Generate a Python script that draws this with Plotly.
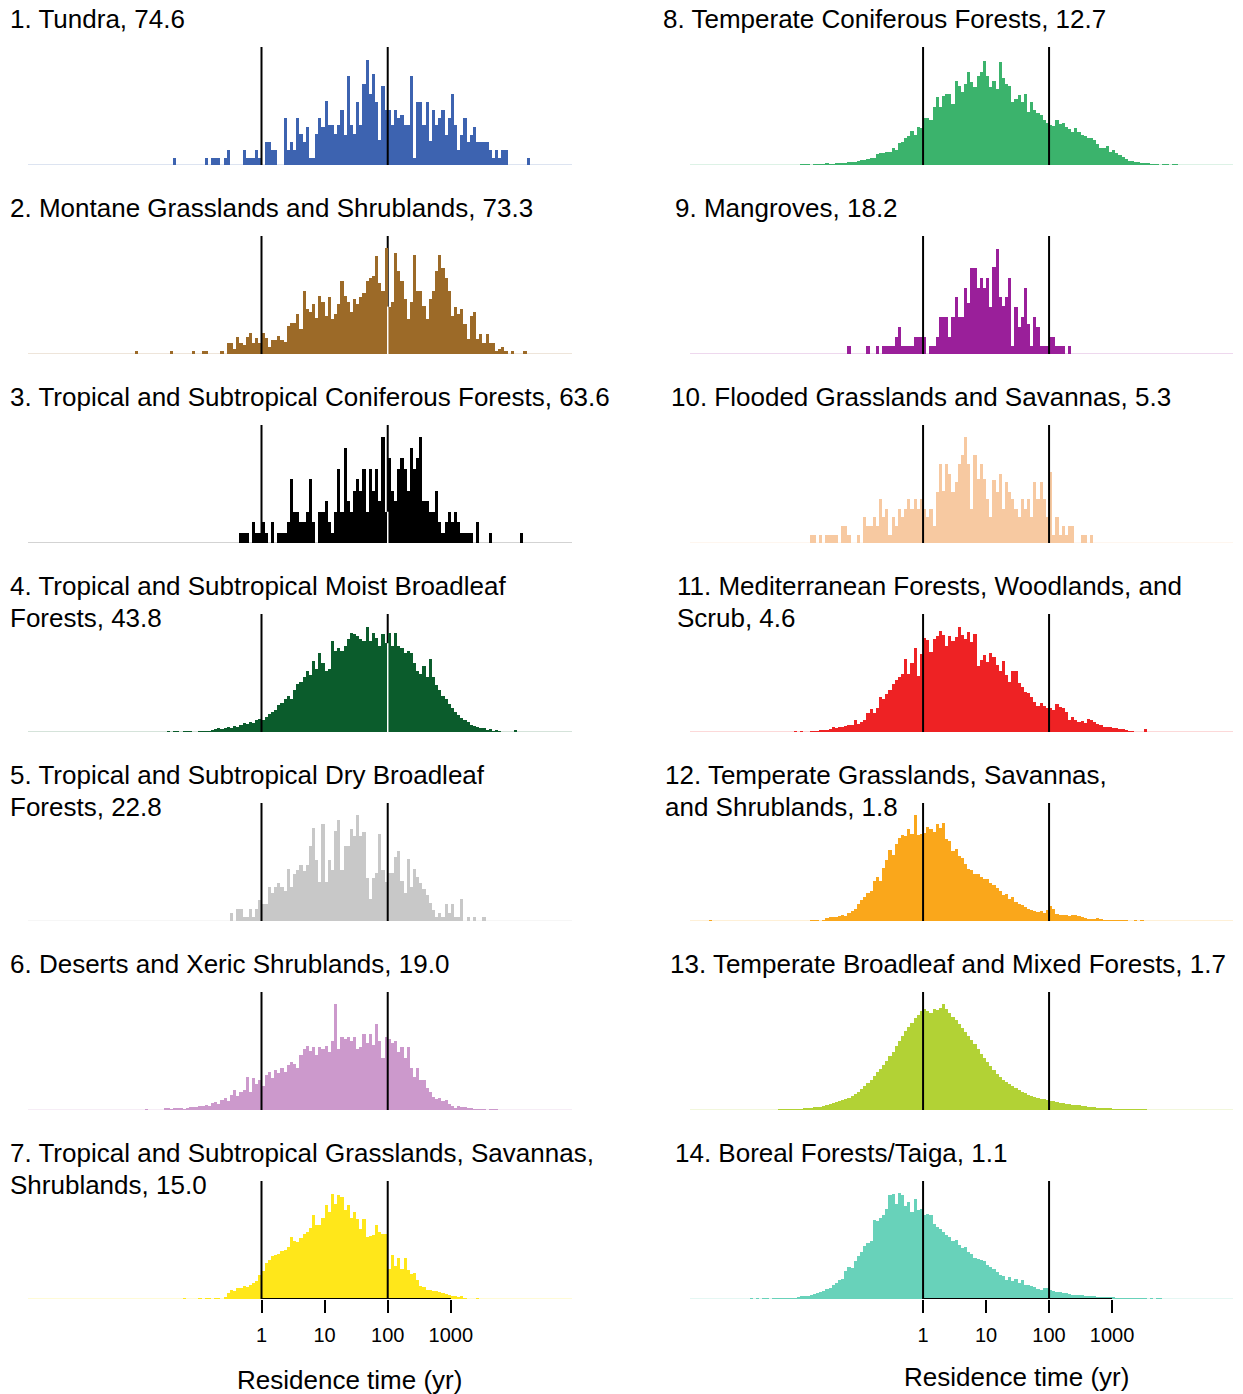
import plotly.graph_objects as go

# ---------------- data (bar heights of each histogram, bins 0.05 log10-yr wide) ----------------
BIN = 0.05
tick_vals = [0, 1, 2, 3]
tick_text = ["1", "10", "100", "1000"]

tundra_start = -1.40
tundra_h = [7, 0, 0, 0, 0, 0, 0, 0, 0, 0, 7, 0, 7, 7, 7, 0, 7, 15, 0, 0, 0, 0, 15, 7, 7, 7, 15, 7,
            0, 23, 23, 15, 15, 0, 0, 47, 15, 23, 15, 47, 31, 23, 38, 7, 7, 31, 47, 38,
            63, 40, 40, 31, 40, 55, 30, 88, 40, 31, 62, 40, 80, 104, 70, 90, 62, 25, 78, 55,
            55, 40, 55, 47, 50, 40, 40, 88, 7, 62, 62, 40, 62, 24, 55, 40, 47, 55, 30, 47,
            70, 40, 15, 30, 47, 23, 30, 38, 23, 23, 23, 23, 15, 7, 15, 7, 15, 15,
            0, 0, 0, 0, 0, 0, 7]

montane_start = -2.00
montane_h = [3, 0, 0, 0, 0, 0, 0, 0, 0, 0, 0, 3, 0, 0, 0, 0, 0, 0, 3, 0, 0, 3, 3, 0, 0, 0, 0, 3, 0,
             11, 11, 5, 17, 11, 9, 17, 21, 11, 16, 11,
             21, 16, 7, 14, 14, 18, 14, 12, 28, 31, 31, 40, 25, 62, 45, 42, 50, 36, 58, 52,
             38, 57, 35, 40, 50, 72, 58, 52, 42, 55, 50, 57, 60, 72, 75, 77, 97, 70, 62, 105,
             47, 52, 100, 82, 72, 55, 35, 52, 98, 62, 62, 48, 35, 55, 62, 82, 98, 85, 75, 62,
             38, 47, 40, 45, 30, 15, 38, 42, 15, 20, 11, 20, 11, 11, 3, 5, 7, 3, 0, 3, 0, 0, 0, 3]

tropconif_start = -0.35
tropconif_h = [10, 10, 10, 0, 21, 10, 10,
               21, 10, 0, 21, 0, 10, 10, 10, 21, 63, 31, 31, 21, 21, 31, 63, 21, 0, 31, 31,
               42, 21, 10, 31, 73, 31, 94, 42, 31, 52, 63, 52, 73, 31, 73, 52, 73, 42, 105, 31,
               84, 52, 42, 73, 84, 73, 52, 94, 73, 84, 105, 42, 42, 31, 31, 52, 21, 10, 21, 31,
               21, 31, 21, 10, 10, 10, 10, 0, 21, 0, 0, 0, 10, 0, 0, 0, 0, 0, 0, 0, 0, 0, 10]

moist_start = -1.50
moist_h = [1, 0, 1, 1, 0, 1, 1, 1, 0, 0, 1, 1, 1, 1, 2, 3, 4, 3, 4, 5, 4, 6, 5, 7, 9, 8, 10, 9, 12, 13,
           12, 15, 18, 20, 22, 27, 29, 33, 36, 33, 42, 48, 50, 55, 60, 57, 70, 62, 78, 68,
           60, 62, 90, 80, 83, 80, 85, 92, 98, 97, 95, 92, 90, 104, 90, 98, 93, 85, 97, 88,
           98, 85, 98, 85, 83, 78, 80, 78, 68, 60, 58, 65, 55, 72, 55, 47, 42, 36, 33, 28,
           24, 20, 17, 14, 12, 10, 7, 6, 5, 4, 4, 2, 3, 1, 2, 1, 0, 0, 0, 0, 2]

dry_start = -0.50
dry_h = [8, 0, 12, 12, 4, 4, 12, 4, 12, 21,
         17, 17, 34, 28, 34, 38, 34, 30, 52, 34, 47, 51, 56, 50, 56, 74, 92, 60, 39, 96,
         39, 60, 51, 89, 100, 51, 74, 74, 91, 84, 105, 84, 88, 43, 22, 43, 48, 86, 51, 39,
         48, 48, 63, 69, 40, 28, 61, 34, 52, 44, 38, 32, 26, 18, 11, 4, 8, 4, 17, 8,
         17, 4, 4, 22, 0, 4, 0, 4, 0, 0, 4]

desert_start = -1.85
desert_h = [1, 0, 0, 0, 0, 0, 2, 2, 1, 2, 2, 2, 1, 2, 3, 3, 3, 4, 4, 5, 4, 7, 8, 6, 10, 12, 9, 15, 20, 14,
            18, 20, 33, 18, 32, 26, 30,
            24, 35, 38, 32, 40, 37, 42, 38, 45, 48, 46, 42, 55, 60, 63, 59, 62, 55, 62, 60,
            63, 58, 68, 105, 60, 72, 70, 72, 68, 72, 60, 62, 75, 66, 75, 64, 85, 68, 52, 72,
            70, 66, 68, 58, 62, 52, 62, 42, 33, 42, 30, 30, 22, 18, 13, 11, 12, 9, 10, 6,
            4, 2, 4, 3, 3, 2, 2, 1, 1, 1, 1, 0, 1, 1, 1]

tropgrass_start = -1.25
tropgrass_h = [1, 0, 0, 0, 0, 1, 0, 1, 1, 0, 1, 1, 0, 2, 6, 9, 8, 11, 11, 13, 12, 14, 16, 18, 24,
               28, 36, 39, 43, 44, 45, 48, 49, 52, 61, 58, 57, 60, 64, 66, 70, 83, 73, 73, 80,
               93, 86, 104, 94, 103, 101, 88, 93, 80, 86, 79, 69, 79, 61, 62, 63, 73, 66, 64, 64,
               30, 44, 33, 41, 30, 41, 29, 25, 26, 19, 13, 12, 9, 9, 8, 8, 7, 6, 5, 4,
               3, 3, 2, 3, 1, 0, 0, 0, 1]

tempconif_start = -1.95
tempconif_h = [1, 1, 1, 0, 1, 1, 1, 1, 2, 1, 1, 2, 2,
               2, 2, 3, 3, 3, 4, 5, 5, 6, 7, 7, 11, 12, 12, 13, 13, 17, 15, 22, 23, 27, 29, 34, 30, 38, 37,
               47, 47, 45, 58, 67, 58, 68, 70, 70, 60, 83, 78, 72, 80, 92, 82, 77, 88, 92, 103,
               88, 77, 83, 75, 102, 86, 80, 78, 62, 65, 69, 62, 70, 53, 62, 55, 52, 50, 45, 42,
               40, 39, 45, 41, 42, 38, 36, 33, 37, 33, 30, 29, 27, 27, 25, 21, 17, 17, 19, 13,
               15, 12, 10, 8, 6, 4, 4, 3, 3, 2, 2, 2, 1, 1, 1, 0, 1, 1, 0, 1, 1]

mangrove_start = -1.20
mangrove_h = [8, 0, 0, 0, 0, 0, 8, 0, 0, 8, 0, 8, 8, 8, 8, 17, 27, 8, 8, 8, 8, 17, 17, 17,
              17, 0, 8, 8, 17, 37, 37, 37, 17, 37, 57, 37, 37, 65, 51, 85, 85, 65, 75, 65,
              75, 47, 86, 104, 57, 48, 57, 75, 8, 47, 27, 37, 65, 30, 8, 37, 27, 8, 8, 8,
              17, 17, 8, 8, 8, 0, 8]

flooded_start = -1.80
flooded_h = [8, 8, 0, 8, 0, 8, 8, 8, 8, 0, 17, 17, 8, 0, 0, 8, 0, 26, 17, 17, 26, 17, 44, 26, 34,
             8, 26, 17, 34, 26, 34, 44, 34, 44, 34, 44,
             34, 26, 34, 17, 51, 78, 52, 78, 68, 51, 60, 78, 87, 105, 78, 34, 87, 63, 78, 63,
             44, 26, 62, 51, 68, 34, 60, 51, 44, 34, 26, 44, 34, 44, 26, 60, 44, 60, 44, 26,
             70, 8, 26, 8, 17, 8, 17, 17, 0, 0, 8, 8, 0, 8]

medit_start = -2.05
medit_h = [1, 0, 1, 0, 0, 1, 1, 1, 2, 2, 2, 3, 5, 4, 5, 5, 6, 7, 7, 12, 8, 10, 12, 19, 23, 19, 24, 35,
           33, 38, 42, 48, 52, 55, 58, 72, 58, 68, 83, 56, 77,
           93, 91, 79, 92, 95, 100, 96, 85, 95, 90, 94, 104, 96, 92, 99, 89, 97, 65, 71, 76,
           69, 78, 74, 66, 60, 70, 57, 50, 60, 60, 49, 45, 40, 39, 35, 30, 26, 29, 26, 24,
           24, 22, 28, 25, 24, 20, 12, 15, 12, 10, 11, 9, 13, 12, 10, 8, 7, 5, 5, 5,
           4, 4, 3, 3, 2, 1, 1, 0, 0, 0, 3]

tempgrass_start = -3.40
tempgrass_h = [1, 0, 0, 0, 0, 0, 0, 0, 0, 0, 0, 0, 0, 0, 0, 0, 0, 0, 0, 0, 0, 0, 0, 0, 0, 0, 0, 0, 0, 0, 0, 0,
               1, 1, 1, 0, 1,
               3, 4, 4, 4, 5, 6, 5, 8, 10, 12, 17, 21, 24, 28, 30, 40, 44, 40, 53, 60, 70, 65, 76, 82, 85,
               84, 91, 86, 105, 85, 86,
               87, 93, 91, 88, 96, 92, 97, 81, 79, 69, 71, 64, 62, 57, 52, 51, 47, 47, 44, 42,
               42, 38, 36, 33, 30, 26, 27, 22, 24, 19, 17, 16, 14, 12, 11, 10, 9, 10, 8, 11,
               15, 12, 7, 6, 6, 6, 5, 6, 6, 5, 4, 3, 2, 2, 2, 3, 2, 1, 1, 1,
               1, 1, 1, 1, 1, 0, 0, 1, 0, 1, 0]

tempbroad_start = -2.30
tempbroad_h = [1, 1, 1, 1, 1, 1, 1, 1, 2, 2, 2, 3, 3, 3, 4, 5, 6, 7, 8, 9, 10, 11, 12,
               14, 16, 18, 21, 24, 27, 30, 34, 38, 41, 45, 49, 54, 58, 63, 68, 73, 78, 82, 86, 91, 94, 98,
               100, 98, 96, 100, 99, 101, 105, 100, 96, 92, 89, 85, 81, 77, 73, 69, 65, 60, 56, 52,
               48, 44, 40, 36, 33, 30, 28, 26, 24, 22, 20, 18, 17, 15, 14, 13, 12, 11, 11, 10,
               9, 9, 8, 7, 7, 6, 6, 5, 5, 5, 4, 4, 3, 3, 3, 2, 2, 2, 2, 2,
               1, 1, 1, 1, 1, 1, 1, 1, 1, 1, 1]

boreal_start = -2.75
boreal_h = [1, 0, 1, 0, 1, 1, 0, 1, 1, 1, 1, 1,
            1, 1, 1, 2, 3, 3, 3, 4, 5, 6, 7, 8, 10, 11, 14, 16, 19, 20, 28, 32, 31, 38, 43, 47, 53, 56, 58,
            78, 77, 80, 83, 89, 103, 104, 94, 105, 103, 92, 96, 86, 99, 88, 89,
            83, 84, 83, 74, 71, 69, 66, 63, 61, 58, 59, 54, 51, 52, 47, 45, 41, 40, 39, 38,
            34, 32, 30, 27, 24, 23, 19, 22, 18, 20, 16, 19, 14, 14, 13, 12, 10, 9, 11, 11,
            9, 8, 7, 7, 6, 6, 5, 4, 4, 4, 4, 3, 3, 3, 3, 2, 2, 2, 2, 2,
            2, 1, 1, 1, 1, 1, 1, 1, 1, 1, 1, 0, 1, 0, 1, 1]

titles = [
    ["1. Tundra, 74.6"],
    ["2. Montane Grasslands and Shrublands, 73.3"],
    ["3. Tropical and Subtropical Coniferous Forests, 63.6"],
    ["4. Tropical and Subtropical Moist Broadleaf", "Forests, 43.8"],
    ["5. Tropical and Subtropical Dry Broadleaf", "Forests, 22.8"],
    ["6. Deserts and Xeric Shrublands, 19.0"],
    ["7. Tropical and Subtropical Grasslands, Savannas,", "Shrublands, 15.0"],
    ["8. Temperate Coniferous Forests, 12.7"],
    ["9. Mangroves, 18.2"],
    ["10. Flooded Grasslands and Savannas, 5.3"],
    ["11. Mediterranean Forests, Woodlands, and", "Scrub, 4.6"],
    ["12. Temperate Grasslands, Savannas,", "and Shrublands, 1.8"],
    ["13. Temperate Broadleaf and Mixed Forests, 1.7"],
    ["14. Boreal Forests/Taiga, 1.1"],
]

# ---------------- styling ----------------
colors = ["#3D63B0", "#9C6A28", "#000000", "#0B5C2C", "#C8C8C8", "#CC99CC", "#FFE71A",
          "#3BB36C", "#9A1F9A", "#F7C9A1", "#EE2224", "#FAA71B", "#B2D235", "#68D2BA"]

series = [
    (tundra_start, tundra_h), (montane_start, montane_h), (tropconif_start, tropconif_h),
    (moist_start, moist_h), (dry_start, dry_h), (desert_start, desert_h),
    (tropgrass_start, tropgrass_h), (tempconif_start, tempconif_h), (mangrove_start, mangrove_h),
    (flooded_start, flooded_h), (medit_start, medit_h), (tempgrass_start, tempgrass_h),
    (tempbroad_start, tempbroad_h), (boreal_start, boreal_h),
]
gap_panels = {1, 2, 3}   # panels where the line at 100 yr is broken by a white gap through the bars

W, H = 1243, 1394
FONT = "Liberation Sans, Arial, sans-serif"
X_MIN, X_MAX = -3.70, 4.92
Y_MAX = 117
title_x = [8, 8, 8, 8, 8, 8, 8, 661, 673, 669, 675, 663, 668, 673]


def rgba(hexc, a):
    hexc = hexc.lstrip("#")
    r, g, b = int(hexc[0:2], 16), int(hexc[2:4], 16), int(hexc[4:6], 16)
    return f"rgba({r},{g},{b},{a})"


fig = go.Figure()
layout = dict(width=W, height=H, margin=dict(l=0, r=0, t=0, b=0),
              paper_bgcolor="white", plot_bgcolor="white", showlegend=False,
              bargap=0, font=dict(family=FONT, color="black"))
shapes, annotations = [], []

for i, (start, h) in enumerate(series):
    n = i + 1
    sfx = "" if n == 1 else str(n)
    xa, ya = "x" + sfx, "y" + sfx
    col_i, row = (0, i) if i < 7 else (1, i - 7)
    bottom = row == 6
    col = colors[i]

    centers = [start + (j + 0.5) * BIN for j in range(len(h))]
    fig.add_trace(go.Bar(x=centers, y=h, width=BIN, xaxis=xa, yaxis=ya,
                         marker=dict(color=col, line=dict(width=0)), hoverinfo="skip"))

    xdom = [28 / W, 572 / W] if col_i == 0 else [690 / W, 1233 / W]
    top, bot = 47 + 189 * row, 165 + 189 * row
    ydom = [1 - bot / H, 1 - top / H]
    layout["xaxis" + sfx] = dict(domain=xdom, range=[X_MIN, X_MAX], anchor=ya, showgrid=False,
                                 zeroline=False, showline=False, fixedrange=True,
                                 showticklabels=bottom, ticks="outside" if bottom else "",
                                 tickvals=tick_vals, ticktext=tick_text, ticklen=13, tickwidth=2,
                                 ticklabelstandoff=5,
                                 tickcolor="black", tickfont=dict(size=20, color="black", family=FONT))
    layout["yaxis" + sfx] = dict(domain=ydom, range=[0, Y_MAX], anchor=xa, visible=False,
                                 fixedrange=True)

    # faint baseline
    shapes.append(dict(type="line", xref=xa, yref=ya, x0=X_MIN, x1=X_MAX, y0=0, y1=0,
                       line=dict(color=rgba(col, 0.35), width=1), layer="below"))
    # reference lines at 1 and 100 yr
    shapes.append(dict(type="line", xref=xa, yref=ya, x0=0, x1=0, y0=0, y1=Y_MAX,
                       line=dict(color="black", width=2), layer="above"))
    if i in gap_panels:
        shapes.append(dict(type="line", xref=xa, yref=ya, x0=2, x1=2, y0=0, y1=Y_MAX,
                           line=dict(color="black", width=2), layer="below"))
        k = int(round((2 - start) / BIN))
        gap_top = min(h[k - 1], h[k])
        shapes.append(dict(type="line", xref=xa, yref=ya, x0=2, x1=2, y0=0, y1=gap_top,
                           line=dict(color="white", width=1.5), layer="above"))
    else:
        shapes.append(dict(type="line", xref=xa, yref=ya, x0=2, x1=2, y0=0, y1=Y_MAX,
                           line=dict(color="black", width=2), layer="above"))
    if bottom:
        shapes.append(dict(type="line", xref=xa, yref=ya, x0=tick_vals[0], x1=tick_vals[-1],
                           y0=0, y1=0, line=dict(color="black", width=2), layer="above"))

    # titles
    for li, txt in enumerate(titles[i]):
        cy = 19 + 189 * row + 32 * li
        annotations.append(dict(text=txt, x=title_x[i] / W, y=1 - cy / H, xref="paper", yref="paper",
                                xanchor="left", yanchor="middle", showarrow=False,
                                font=dict(size=26, color="black", family=FONT)))

for cx, cy in [(349.5, 1380), (1016.5, 1377)]:
    annotations.append(dict(text="Residence time (yr)", x=cx / W, y=1 - cy / H, xref="paper",
                            yref="paper", xanchor="center", yanchor="middle", showarrow=False,
                            font=dict(size=26, color="black", family=FONT)))

layout["shapes"] = shapes
layout["annotations"] = annotations
fig.update_layout(**layout)
fig.write_html("out.html", config={"displayModeBar": False, "staticPlot": True},
               post_script="document.body.style.margin='0px';document.body.style.overflow='hidden';")
